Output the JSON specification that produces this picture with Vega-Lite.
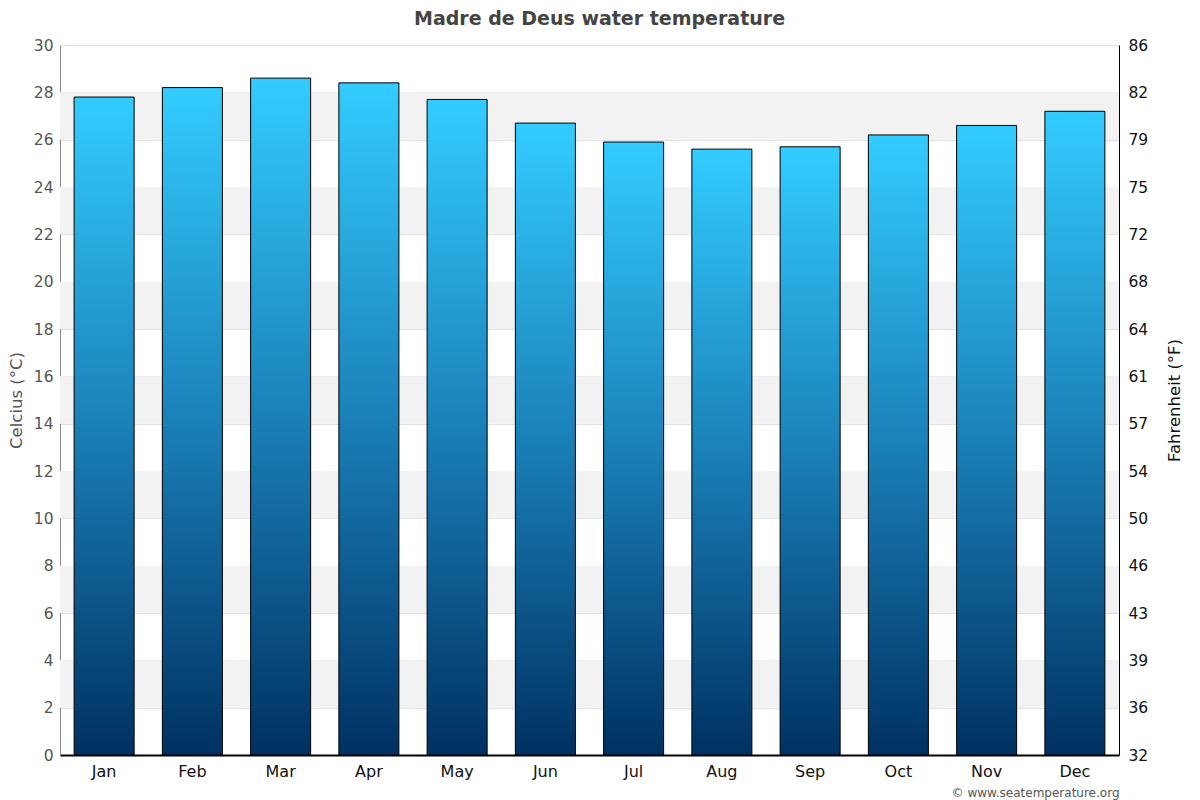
{
  "$schema": "https://vega.github.io/schema/vega-lite/v6.json",
  "autosize": "none",
  "width": 1059,
  "height": 710,
  "padding": {"left": 60, "top": 45, "right": 81, "bottom": 45},
  "background": "white",
  "title": {
    "text": "Madre de Deus water temperature",
    "font": "DejaVu Sans",
    "fontSize": 19,
    "fontWeight": "bold",
    "color": "#444444",
    "anchor": "middle",
    "dx": 10,
    "offset": 9
  },
  "datasets": {
    "temps": [
      {"month": "Jan", "c": 27.8},
      {"month": "Feb", "c": 28.2},
      {"month": "Mar", "c": 28.6},
      {"month": "Apr", "c": 28.4},
      {"month": "May", "c": 27.7},
      {"month": "Jun", "c": 26.7},
      {"month": "Jul", "c": 25.9},
      {"month": "Aug", "c": 25.6},
      {"month": "Sep", "c": 25.7},
      {"month": "Oct", "c": 26.2},
      {"month": "Nov", "c": 26.6},
      {"month": "Dec", "c": 27.2}
    ],
    "bands": [
      {"lo": 2, "hi": 4},
      {"lo": 6, "hi": 8},
      {"lo": 10, "hi": 12},
      {"lo": 14, "hi": 16},
      {"lo": 18, "hi": 20},
      {"lo": 22, "hi": 24},
      {"lo": 26, "hi": 28}
    ]
  },
  "layer": [
    {
      "data": {"name": "bands"},
      "mark": {"type": "rect", "color": "#f2f2f2"},
      "encoding": {
        "y": {"field": "lo", "type": "quantitative", "scale": {"domain": [0, 30]}, "axis": null},
        "y2": {"field": "hi"}
      }
    },
    {
      "data": {"name": "temps"},
      "mark": {
        "type": "bar",
        "stroke": "black",
        "strokeWidth": 1,
        "color": {
          "gradient": "linear",
          "x1": 0, "y1": 0, "x2": 0, "y2": 1,
          "stops": [
            {"offset": 0, "color": "#33ccff"},
            {"offset": 0.5, "color": "#1a80b8"},
            {"offset": 1, "color": "#003162"}
          ]
        }
      },
      "encoding": {
        "x": {
          "field": "month",
          "type": "nominal",
          "sort": null,
          "scale": {"paddingInner": 0.32, "paddingOuter": 0.16},
          "axis": {
            "title": "© www.seatemperature.org",
            "titleAnchor": "end",
            "titleFont": "DejaVu Sans",
            "titleFontSize": 12,
            "titleFontWeight": "normal",
            "titleColor": "#555555",
            "titlePadding": 8,
            "labelAngle": 0,
            "labelFont": "DejaVu Sans",
            "labelFontSize": 16,
            "labelColor": "#111111",
            "labelPadding": 8,
            "ticks": false,
            "domainColor": "black",
            "domainWidth": 2,
            "grid": false
          }
        },
        "y": {
          "field": "c",
          "type": "quantitative",
          "scale": {"domain": [0, 30]},
          "axis": {
            "orient": "left",
            "title": "Celcius (°C)",
            "titleFont": "DejaVu Sans",
            "titleFontSize": 16.5,
            "titleFontWeight": "normal",
            "titleColor": "#555555",
            "titlePadding": 9,
            "values": [0, 2, 4, 6, 8, 10, 12, 14, 16, 18, 20, 22, 24, 26, 28, 30],
            "labelFont": "DejaVu Sans",
            "labelFontSize": 15.5,
            "labelColor": "#555555",
            "labelPadding": 7,
            "ticks": false,
            "domainColor": "#888888",
            "grid": true,
            "gridColor": "#e0e0e0"
          }
        }
      }
    },
    {
      "data": {"name": "temps"},
      "mark": {"type": "bar", "opacity": 0},
      "encoding": {
        "x": {"field": "month", "type": "nominal", "sort": null},
        "y": {
          "field": "c",
          "type": "quantitative",
          "scale": {"domain": [0, 30]},
          "axis": {
            "orient": "right",
            "title": "Fahrenheit (°F)",
            "titleAngle": 270,
            "titleFont": "DejaVu Sans",
            "titleFontSize": 16.5,
            "titleFontWeight": "normal",
            "titleColor": "#111111",
            "titlePadding": 35,
            "values": [0, 2, 4, 6, 8, 10, 12, 14, 16, 18, 20, 22, 24, 26, 28, 30],
            "labelExpr": "format(datum.value * 1.8 + 32, '.0f')",
            "labelFont": "DejaVu Sans",
            "labelFontSize": 15.5,
            "labelColor": "#111111",
            "labelPadding": 9,
            "ticks": false,
            "domainColor": "black",
            "grid": false
          }
        }
      }
    }
  ],
  "resolve": {"axis": {"y": "independent"}},
  "config": {"view": {"stroke": null}}
}
